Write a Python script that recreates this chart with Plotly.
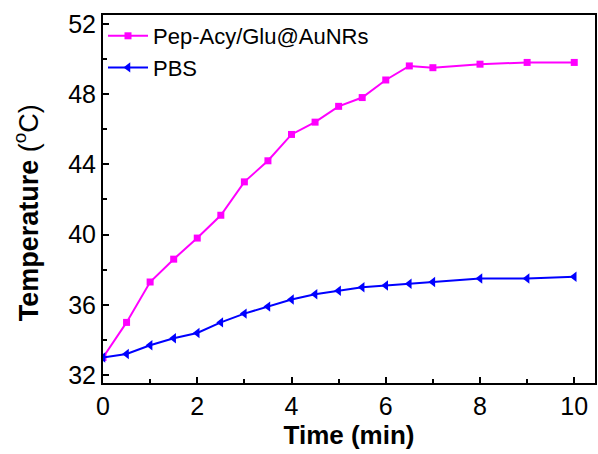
import plotly.graph_objects as go

# Heating curves under laser irradiation
time_min = [0, 0.5, 1, 1.5, 2, 2.5, 3, 3.5, 4, 4.5, 5, 5.5, 6, 6.5, 7, 8, 9, 10]
temp_aunr = [33.0, 35.0, 37.3, 38.6, 39.8, 41.1, 43.0, 44.2, 45.7, 46.4, 47.3, 47.8,
             48.8, 49.6, 49.5, 49.7, 49.8, 49.8]
temp_pbs = [33.0, 33.2, 33.7, 34.1, 34.4, 35.0, 35.5, 35.9, 36.3, 36.6, 36.8, 37.0,
            37.1, 37.2, 37.3, 37.5, 37.5, 37.6]

x_ticks = [0, 2, 4, 6, 8, 10]
y_ticks = [32, 36, 40, 44, 48, 52]

FONT = "Liberation Sans, Arial, sans-serif"

fig = go.Figure()
fig.add_trace(go.Scatter(
    x=time_min, y=temp_aunr, name="Pep-Acy/Glu@AuNRs", mode="lines+markers",
    line=dict(color="#ff00ff", width=2),
    marker=dict(symbol="square", size=7, color="#ff00ff"),
))
fig.add_trace(go.Scatter(
    x=time_min, y=temp_pbs, name="PBS", mode="lines+markers",
    line=dict(color="#0000ff", width=2),
    marker=dict(symbol="triangle-left", size=9, color="#0000ff"),
))

axis_common = dict(
    showline=True, linecolor="black", linewidth=2, mirror=True,
    ticks="inside", ticklen=6, tickwidth=2, tickcolor="black",
    showgrid=False, zeroline=False,
    tickfont=dict(family=FONT, size=25, color="black"),
)

fig.update_xaxes(
    range=[0, 10.44], tickvals=x_ticks,
    minor=dict(ticks="inside", ticklen=4, tickwidth=2, tickcolor="black", dtick=1, tick0=0),
    title=dict(text="<b>Time (min)</b>", font=dict(family=FONT, size=26, color="black"),
               standoff=2),
    **axis_common,
)
fig.update_yaxes(
    range=[31.55, 52.5], tickvals=y_ticks,
    minor=dict(ticks="inside", ticklen=4, tickwidth=2, tickcolor="black", dtick=2, tick0=32),
    **axis_common,
)

# y-axis title placed as a rotated annotation
fig.add_annotation(
    text="<b>Temperature</b> (<sup>o</sup>C)",
    xref="paper", yref="paper", x=-0.156, y=0.462,
    xanchor="center", yanchor="middle", textangle=-90, showarrow=False,
    font=dict(family=FONT, size=27, color="black"),
)

fig.update_layout(
    width=598, height=454,
    margin=dict(l=103, r=1, t=15, b=71),
    paper_bgcolor="white", plot_bgcolor="white",
    showlegend=True,
    legend=dict(x=0.0, y=1.0, xanchor="left", yanchor="top",
                bgcolor="rgba(0,0,0,0)",
                font=dict(family=FONT, size=22, color="black"),
                itemwidth=40, tracegroupgap=0),
)

fig.write_html("out.html")
